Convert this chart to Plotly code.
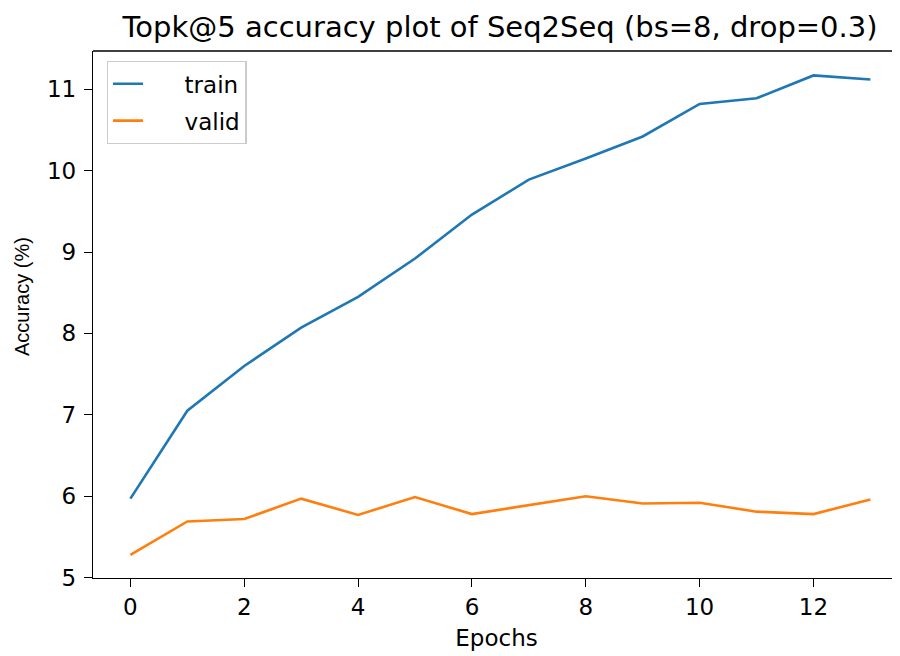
import plotly.graph_objects as go

epochs = list(range(14))
train = [5.97, 7.05, 7.60, 8.07, 8.45, 8.92, 9.46, 9.89, 10.15, 10.42, 10.82, 10.89, 11.17, 11.12]
valid = [5.28, 5.69, 5.72, 5.97, 5.77, 5.99, 5.78, 5.89, 6.00, 5.91, 5.92, 5.81, 5.78, 5.96]
x_ticks = [0, 2, 4, 6, 8, 10, 12]
y_ticks = [5, 6, 7, 8, 9, 10, 11]

pad = "\u00a0" * 5

fig = go.Figure()
fig.add_trace(go.Scatter(x=epochs, y=train, mode="lines", name=pad + "train",
                         legendgroup="a",
                         line=dict(color="#1f77b4", width=2.6)))
fig.add_trace(go.Scatter(x=epochs, y=valid, mode="lines", name=pad + "valid",
                         legendgroup="b",
                         line=dict(color="#ff7f0e", width=2.6)))

axis_common = dict(showgrid=False, zeroline=False, showline=True, linecolor="black",
                   linewidth=1.3, ticks="outside", ticklen=8, tickwidth=1.3,
                   tickcolor="black",
                   tickfont=dict(family="DejaVu Sans", size=23, color="black"))

fig.update_layout(
    width=892, height=648,
    margin=dict(l=85, r=0, t=43, b=78),
    paper_bgcolor="white", plot_bgcolor="white",
    title=dict(text="Topk@5 accuracy plot of Seq2Seq (bs=8, drop=0.3)",
               font=dict(family="DejaVu Sans", size=29, color="black"),
               x=0.5516, xanchor="center", y=0.9707, yanchor="middle"),
    xaxis=dict(range=[-0.657, 13.52], tickvals=x_ticks,
               title=dict(text="Epochs", font=dict(family="DejaVu Sans", size=23, color="black"),
                          standoff=11),
               **axis_common),
    yaxis=dict(range=[4.995, 11.47], tickvals=y_ticks, ticklabelstandoff=3,
               **axis_common),
    legend=dict(x=0.017, y=0.981, xanchor="left", yanchor="top",
                bgcolor="rgba(255,255,255,0.8)", bordercolor="#cccccc", borderwidth=1.3,
                font=dict(family="DejaVu Sans", size=23, color="black"),
                tracegroupgap=4),
    showlegend=True,
)
fig.add_annotation(text="Accuracy (%)", xref="paper", yref="paper",
                   x=-0.088, y=0.535, xanchor="center", yanchor="middle",
                   textangle=-90, showarrow=False,
                   font=dict(family="Liberation Sans", size=20, color="black"))
fig.add_shape(type="line", xref="paper", yref="paper", x0=0, x1=1, y0=1, y1=1,
              line=dict(color="black", width=1.3))

fig.write_html("out.html")
